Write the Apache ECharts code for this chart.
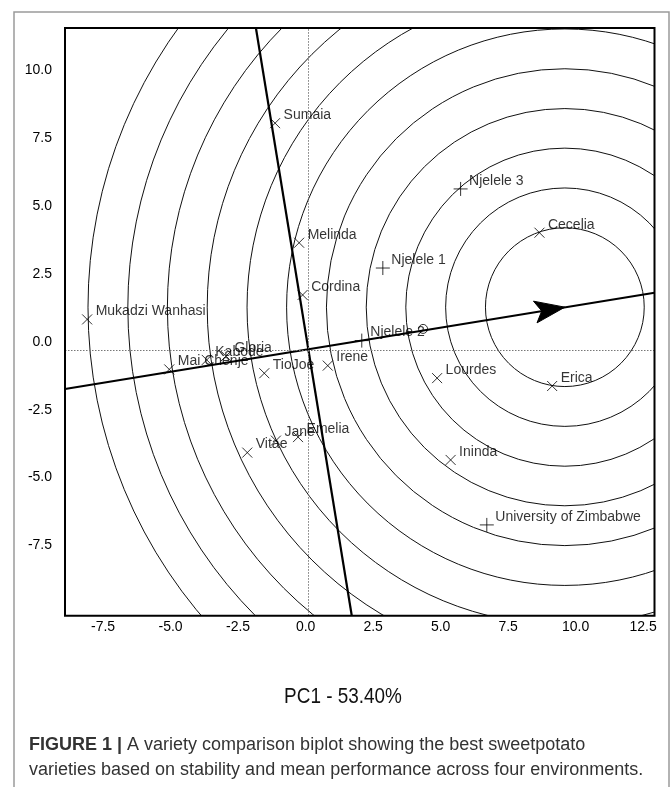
<!DOCTYPE html>
<html><head><meta charset="utf-8">
<script src="https://cdn.jsdelivr.net/npm/echarts@6/dist/echarts.min.js"></script>
<style>html,body{margin:0;padding:0;background:#fff}#c{width:672px;height:787px}</style>
</head><body><div id="c"></div>
<script>
// ---- data ----
const xTicks = [-7.5, -5.0, -2.5, 0.0, 2.5, 5.0, 7.5, 10.0, 12.5];
const yTicks = [-7.5, -5.0, -2.5, 0.0, 2.5, 5.0, 7.5, 10.0];
const xAxisRange = [-8.91, 12.92];
const yAxisRange = [-10.08, 11.54];

const genotypeNames = ['Sumaia','Melinda','Cordina','Cecelia','Mukadzi Wanhasi','Mai Chenje','Kabode','Gloria','TioJoe','Irene','Lourdes','Erica','Vitae','Jane','Emelia','Ininda'];
const genotypeX = [-1.13, -0.24, -0.11, 8.66, -8.09, -5.05, -3.66, -2.95, -1.53, 0.82, 4.87, 9.13, -2.16, -1.10, -0.28, 5.37];
const genotypeY = [8.04, 3.64, 1.72, 4.01, 0.82, -1.02, -0.67, -0.53, -1.16, -0.88, -1.34, -1.63, -4.08, -3.64, -3.51, -4.35];

const environmentNames = ['Njelele 1','Njelele 2','Njelele 3','University of Zimbabwe'];
const environmentX = [2.86, 2.08, 5.74, 6.71];
const environmentY = [2.71, 0.04, 5.62, -6.74];

const averageEnvironment = [4.35, 0.47];
const idealPoint = [9.60, 1.27];
const circleRadii = [2.93, 4.40, 5.87, 7.33, 8.80, 10.27, 11.73, 13.20, 14.67, 16.13, 17.60];
const atcAbscissa = [[-8.91, -1.74], [12.92, 1.80]];
const atcOrdinate = [[-1.84, 11.54], [1.71, -10.08]];
const originX = 0.08;
const originY = -0.30;

// ---- chart ----
const FONT = 'Liberation Sans, Arial, sans-serif';
const chart = echarts.init(document.getElementById('c'), null, {renderer: 'canvas'});

const crossSym = 'path://M0,0L10,10M10,0L0,10';
const plusSym = 'path://M5,0L5,10M0,5L10,5';
const pointLabel = {show: true, formatter: '{b}', position: 'right', distance: 3, offset: [0, -8],
  fontSize: 14, color: '#000', fontFamily: FONT};

const option = {
  animation: false,
  backgroundColor: '#fff',
  grid: {left: 65, right: 17.5, top: 28, bottom: 171.3, show: true, borderColor: '#000', borderWidth: 2, backgroundColor: 'transparent', z: 10},
  xAxis: {
    type: 'value', min: xAxisRange[0], max: xAxisRange[1],
    axisLine: {show: false}, axisTick: {show: false}, splitLine: {show: false},
    axisLabel: {customValues: xTicks, formatter: v => v.toFixed(1), fontSize: 14, color: '#000', fontFamily: FONT, margin: 4}
  },
  yAxis: {
    type: 'value', min: yAxisRange[0], max: yAxisRange[1],
    axisLine: {show: false}, axisTick: {show: false}, splitLine: {show: false},
    axisLabel: {customValues: yTicks, formatter: v => v.toFixed(1), fontSize: 14, color: '#000', fontFamily: FONT, margin: 13}
  },
  series: [
    { // concentric circles around the ideal point
      type: 'custom', clip: true, silent: true, z: 1,
      data: circleRadii.map(r => [idealPoint[0], idealPoint[1], r]),
      encode: {x: 0, y: 1},
      renderItem: function (params, api) {
        const c = api.coord([api.value(0), api.value(1)]);
        const s = api.size([api.value(2), api.value(2)]);
        return {type: 'circle', shape: {cx: c[0], cy: c[1], r: (s[0] + s[1]) / 2},
          style: {fill: 'none', stroke: '#111', lineWidth: 1}};
      }
    },
    { // origin dotted lines
      type: 'line', silent: true, symbol: 'none', z: 2,
      data: [], markLine: {silent: true, symbol: 'none', label: {show: false},
        lineStyle: {type: [1.5, 1.5], color: '#777', width: 1},
        data: [{xAxis: originX}, {yAxis: originY}]}
    },
    { // ATC abscissa
      type: 'line', silent: true, symbol: 'none', z: 3,
      data: atcAbscissa, lineStyle: {color: '#000', width: 2.2}
    },
    { // ATC ordinate
      type: 'line', silent: true, symbol: 'none', z: 3,
      data: atcOrdinate, lineStyle: {color: '#000', width: 2.2}
    },
    { // arrow head at the ideal point
      type: 'custom', silent: true, z: 4,
      data: [[idealPoint[0], idealPoint[1], atcAbscissa[0][0], atcAbscissa[0][1]]],
      encode: {x: 0, y: 1},
      renderItem: function (params, api) {
        const tip = api.coord([api.value(0), api.value(1)]);
        const back = api.coord([api.value(2), api.value(3)]);
        let dx = tip[0] - back[0], dy = tip[1] - back[1];
        const len = Math.sqrt(dx * dx + dy * dy); dx /= len; dy /= len;
        const nx = -dy, ny = dx;
        const L = 30, W = 11;
        return {type: 'polygon', shape: {points: [
          tip,
          [tip[0] - L * dx + W * nx, tip[1] - L * dy + W * ny],
          [tip[0] - 0.78 * L * dx, tip[1] - 0.78 * L * dy],
          [tip[0] - L * dx - W * nx, tip[1] - L * dy - W * ny]
        ]}, style: {fill: '#000', stroke: '#000', lineWidth: 1}};
      }
    },
    { // average environment marker
      type: 'scatter', silent: true, z: 5,
      data: [averageEnvironment], symbol: 'circle', symbolSize: 9,
      itemStyle: {color: 'rgba(255,255,255,0)', borderColor: '#000', borderWidth: 1}
    },
    { // genotypes
      type: 'scatter', silent: true, z: 6,
      data: genotypeNames.map((n, i) => ({name: n, value: [genotypeX[i], genotypeY[i]]})),
      symbol: crossSym, symbolSize: 10,
      itemStyle: {color: 'rgba(0,0,0,0)', borderColor: '#000', borderWidth: 1},
      label: pointLabel
    },
    { // environments
      type: 'scatter', silent: true, z: 6,
      data: environmentNames.map((n, i) => ({name: n, value: [environmentX[i], environmentY[i]]})),
      symbol: plusSym, symbolSize: 14,
      itemStyle: {color: 'rgba(0,0,0,0)', borderColor: '#000', borderWidth: 1},
      label: Object.assign({}, pointLabel, {distance: 1})
    }
  ],
  graphic: [
    {type: 'rect', silent: true, z: -1, shape: {x: 14, y: 12, width: 655, height: 800},
      style: {fill: 'none', stroke: '#9a9a9a', lineWidth: 1.5}},
    {type: 'text', silent: true, x: 343, y: 697, scaleX: 0.86,
      style: {text: 'PC1 - 53.40%', fontSize: 22, fontFamily: FONT,
        fill: '#111', align: 'center', verticalAlign: 'middle'}},
    {type: 'text', silent: true, x: 29, y: 745,
      style: {text: '{b|FIGURE 1 |} A variety comparison biplot showing the best sweetpotato',
        fontSize: 18, fontFamily: FONT, fill: '#333', align: 'left', verticalAlign: 'middle',
        rich: {b: {fontWeight: 'bold', fontSize: 18, fontFamily: FONT, fill: '#333'}}}},
    {type: 'text', silent: true, x: 29, y: 770,
      style: {text: 'varieties based on stability and mean performance across four environments.',
        fontSize: 18, fontFamily: FONT, fill: '#333', align: 'left', verticalAlign: 'middle'}}
  ]
};
chart.setOption(option);
</script>
</body></html>
